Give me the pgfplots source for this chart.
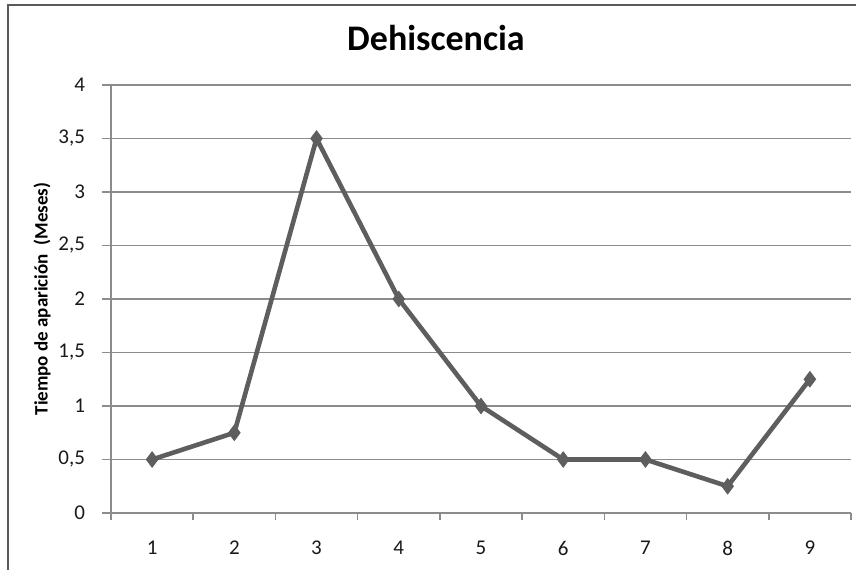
\documentclass[border=0pt]{standalone}
\usepackage{fontspec}
\setmainfont{Carlito}
\usepackage{pgfplots}
\pgfplotsset{compat=1.18}

\definecolor{seriesgray}{HTML}{5E5E5E}
\definecolor{gridgray}{HTML}{8C8C8C}
\definecolor{framegray}{HTML}{5A5A5A}

\begin{document}
\begin{tikzpicture}
% fixed canvas: 428pt x 285pt
\useasboundingbox (0,0) rectangle (428pt,285pt);
% chart frame (left and top edges)
\draw[framegray, line width=1pt] (4pt,0) -- (4pt,282.5pt) -- (428pt,282.5pt);

\begin{axis}[
  at={(55.5pt,28.5pt)}, anchor=south west,
  scale only axis,
  width=370pt, height=214pt,
  xmin=-0.5, xmax=8.5,
  ymin=0, ymax=4,
  axis x line*=bottom, axis y line*=left,
  axis line style={gridgray, line width=0.8pt, -},
  xtick={0,...,8},
  xticklabels={1,2,3,4,5,6,7,8,9},
  major x tick style={draw=none},
  minor xtick={-0.5,0.5,...,8.5},
  minor x tick style={gridgray, line width=0.8pt},
  minor tick length=3.5pt,
  ytick={0,0.5,...,4},
  major y tick style={gridgray, line width=0.8pt},
  major tick length=4.5pt,
  tick align=outside,
  ymajorgrids,
  major grid style={gridgray, line width=0.8pt},
  /pgf/number format/assume math mode=true,
  /pgf/number format/use comma,
  /pgf/number format/fixed,
  yticklabel style={font=\fontsize{10.5}{12}\selectfont, text=black!90, xshift=-5pt},
  xticklabel style={font=\fontsize{10.5}{12}\selectfont, text=black!90, yshift=-6pt},
  ylabel={\textbf{Tiempo de aparición\ \ (Meses)}},
  ylabel style={font=\fontsize{9.5}{11}\selectfont, at={(axis description cs:-0.093,0.5)}, anchor=center},
  clip=false,
]
\addplot[seriesgray, line width=2.3pt, mark=diamond*, mark size=3.8pt,
  mark options={fill=seriesgray, draw=seriesgray, line width=0.5pt}]
  coordinates {
    (0,0.5) (1,0.75) (2,3.5) (3,2) (4,1) (5,0.5) (6,0.5) (7,0.25) (8,1.25)
  };
\end{axis}

\node[font=\fontsize{18}{21}\selectfont\bfseries] at (218pt,266pt) {Dehiscencia};
\end{tikzpicture}
\end{document}
